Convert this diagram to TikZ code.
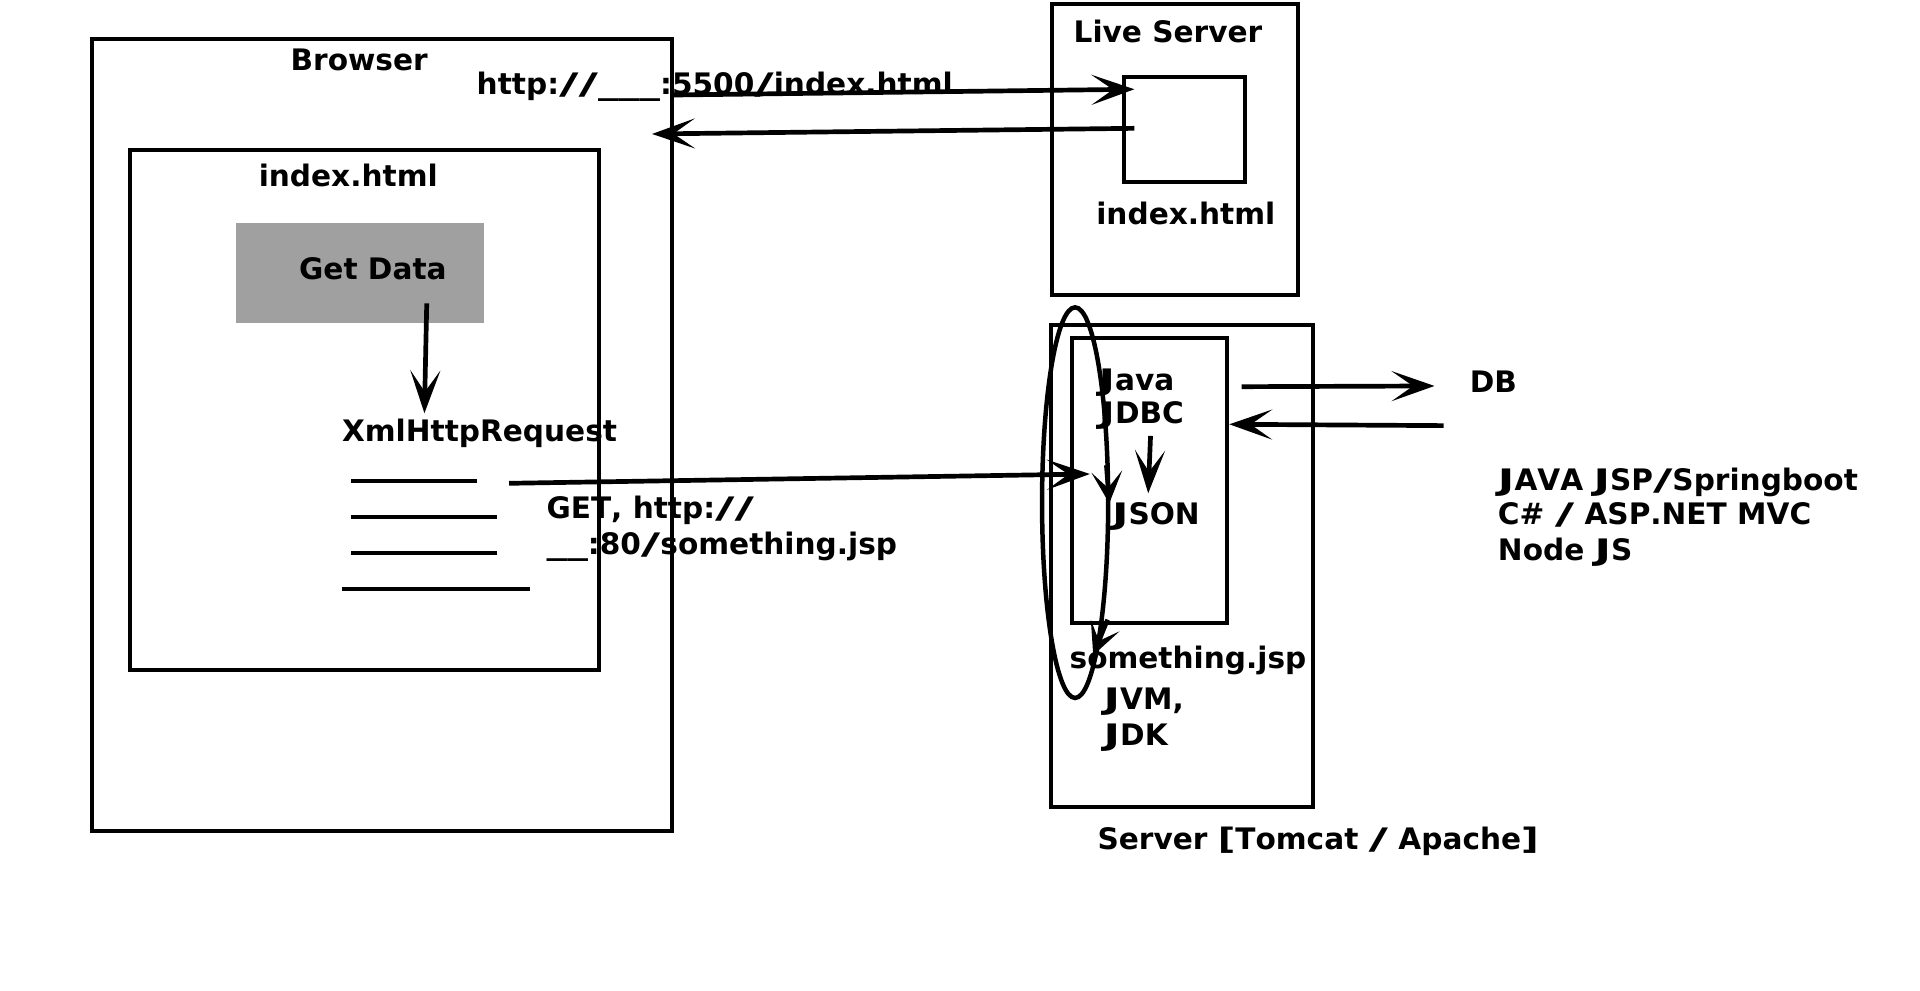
\documentclass[tikz,border=0pt]{standalone}
\usepackage{graphicx}
\usepackage{fontspec}
\setmainfont{DejaVu Sans}[Kerning=Off]
\usetikzlibrary{arrows.meta,fit,shapes.geometric}
\newcommand\Jx{\scalebox{1.5}[1]{J}}
\newcommand\slx{\scalebox{1.8}[1]{/}}
\newcommand\usx{\scalebox{1.4}[1]{\_}}
\newcommand\lbx{\scalebox{1.3}[1]{[}}
\newcommand\rbx{\scalebox{1.3}[1]{]}}
\begin{document}
\begin{tikzpicture}[x=0.6pt,y=-0.6pt,
  box/.style={draw=black, line width=2pt, inner sep=0pt},
  lbl/.style={font=\fontsize{14.5}{17}\selectfont\bfseries, inner sep=0pt, anchor=base west},
  arr/.style={line width=2.3pt, -{Stealth[length=21pt,width=14.7pt,inset=10.5pt]}},
  arrsmall/.style={line width=2.2pt, -{Stealth[length=15.5pt,width=15pt,inset=8pt]}},
  rulebar/.style={line width=2pt},
]
\useasboundingbox[fill=white] (0,0) rectangle (1568,809);
% boxes
\node[box, fit={(75,32) (549,678.5)}] (browser) {};
\node[box, fit={(106.5,122.5) (489,547)}] (page) {};
\node[fill={rgb,255:red,160;green,160;blue,160}, inner sep=0pt, fit={(192.5,182.4) (395,263.5)}] (getdata) {};
\node[box, fit={(859,3.5) (1060,241)}] (live) {};
\node[box, fit={(918,62.6) (1017,149)}] (livefile) {};
\node[box, fit={(858,265.4) (1072,658.7)}] (server) {};
\node[box, fit={(875.6,276.3) (1002,509)}] (app) {};
\node[draw, line width=2.2pt, ellipse, minimum width=32.4pt, minimum height=191.4pt, inner sep=0pt] (loop) at (878,410.5) {};
% labels
\node[lbl] (tBrowser) at (237,57.5) {Browser};
\node[lbl] (tUrl) at (389,77) {http:\slx\slx\usx\usx\usx:5500\slx index.html};
\node[lbl] (tPage) at (211,152) {index.html};
\node[lbl] (tGet) at (244,228) {Get Data};
\node[lbl] (tXhr) at (279,360.7) {XmlHttpRequest};
\node[lbl] (tGet1) at (446,423.3) {GET, http:\slx\slx};
\node[lbl] (tGet2) at (446,453.2) {\usx\usx:80\slx something.jsp};
\node[lbl] (tLive) at (876.5,34.6) {Live Server};
\node[lbl] (tLiveFile) at (895,183) {index.html};
\node[lbl] (tJava) at (896.8,318.5) {\Jx ava};
\node[lbl] (tJdbc) at (896.8,346.2) {\Jx DBC};
\node[lbl] (tJson) at (907.8,428.7) {\Jx SON};
\node[lbl] (tJsp) at (873.2,545.8) {something.jsp};
\node[lbl] (tJvm) at (901,579.2) {\Jx VM,};
\node[lbl] (tJdk) at (901,609.2) {\Jx DK};
\node[lbl] (tServer) at (896,693.5) {Server \lbx Tomcat \slx{} Apache\rbx};
\node[lbl] (tDb) at (1200,320.7) {DB};
\node[lbl] (tStack1) at (1223,400.5) {\Jx AVA \Jx SP\slx Springboot};
\node[lbl] (tStack2) at (1223,428.7) {C\# \slx{} ASP.NET MVC};
\node[lbl] (tStack3) at (1223,458) {Node \Jx S};
% form lines
\draw[rulebar] (286.6,392.8) -- (389.2,392.8);
\draw[rulebar] (286.6,421.9) -- (406,421.9);
\draw[rulebar] (286.6,451.8) -- (406,451.8);
\draw[rulebar] (278.9,481) -- (432.6,481);
% connector end points
\coordinate (p1) at (550,77.6);
\coordinate (p2) at (926.4,72.9);
\coordinate (p3) at (926.4,104.8);
\coordinate (p4) at (532.5,109.4);
\coordinate (p5) at (348.5,247.7);
\coordinate (p6) at (346.6,337.5);
\coordinate (p7) at (415.7,394.7);
\coordinate (p8) at (890,387.1);
\coordinate (p9) at (1014,315.8);
\coordinate (p10) at (1171.5,315.2);
\coordinate (p11) at (1179,347.6);
\coordinate (p12) at (1003.9,346.5);
\coordinate (p13) at (939.6,356);
\coordinate (p14) at (937.7,402.8);
\coordinate (p15) at (903.5,380);
\coordinate (p16) at (905.9,411);
\coordinate (p17) at (904.5,506);
\coordinate (p18) at (892.8,535);
% connectors
\draw[arr] (p1) -- (p2);
\draw[arr] (p3) -- (p4);
\draw[arr] (p5) -- (p6);
\draw[arr] (p7) -- (p8);
\draw[arr] (p9) -- (p10);
\draw[arr] (p11) -- (p12);
\draw[arr] (p13) -- (p14);
\draw[arrsmall] (p15) -- (p16);
\draw[arrsmall] (p17) -- (p18);
\end{tikzpicture}
\end{document}
